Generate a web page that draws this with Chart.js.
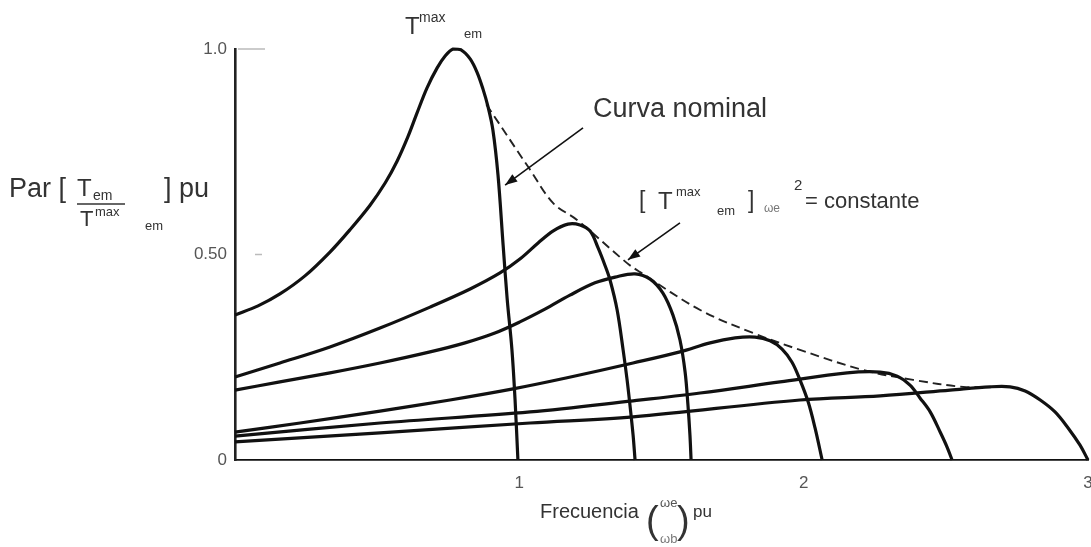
<!DOCTYPE html>
<html>
<head>
<meta charset="utf-8">
<script src="https://cdn.jsdelivr.net/npm/chart.js@4.4.1/dist/chart.umd.min.js"></script>
<style>
  html, body { margin: 0; padding: 0; background: #fff; overflow: hidden; }
  #wrap { position: absolute; left: 0; top: 0; width: 1095px; height: 547px; }
</style>
</head>
<body>
<div id="wrap"><canvas id="chart"></canvas></div>
<script>
// Frecuencia (pu) and par (pu), one pair per curve
const curve1X = [0, 0.081, 0.158, 0.246, 0.334, 0.404, 0.475, 0.528, 0.570, 0.609, 0.640, 0.675, 0.711, 0.739, 0.767, 0.795, 0.827, 0.851, 0.872, 0.890, 0.907, 0.925, 0.943, 0.957, 0.974, 0.985, 0.995];
const curve1Y = [0.353, 0.375, 0.404, 0.448, 0.506, 0.560, 0.620, 0.674, 0.727, 0.788, 0.844, 0.905, 0.954, 0.983, 1.0, 0.998, 0.976, 0.944, 0.903, 0.859, 0.803, 0.693, 0.523, 0.394, 0.268, 0.146, 0];

const curve2X = [0, 0.158, 0.334, 0.510, 0.686, 0.827, 0.932, 1.002, 1.066, 1.118, 1.171, 1.213, 1.249, 1.277, 1.301, 1.319, 1.344, 1.365, 1.379, 1.389, 1.400, 1.407];
const curve2Y = [0.202, 0.236, 0.275, 0.321, 0.372, 0.416, 0.455, 0.489, 0.528, 0.557, 0.574, 0.572, 0.557, 0.516, 0.474, 0.438, 0.365, 0.268, 0.195, 0.134, 0.061, 0];

const curve3X = [0, 0.158, 0.334, 0.510, 0.686, 0.809, 0.914, 1.002, 1.090, 1.178, 1.266, 1.337, 1.407, 1.460, 1.505, 1.540, 1.565, 1.583, 1.593, 1.600, 1.604];
const curve3Y = [0.170, 0.190, 0.212, 0.236, 0.263, 0.285, 0.309, 0.336, 0.367, 0.401, 0.431, 0.445, 0.453, 0.440, 0.406, 0.353, 0.292, 0.214, 0.134, 0.061, 0];

const curve4X = [0, 0.229, 0.510, 0.756, 0.978, 1.168, 1.400, 1.565, 1.671, 1.759, 1.829, 1.882, 1.924, 1.959, 1.987, 2.016, 2.040, 2.065];
const curve4Y = [0.068, 0.090, 0.119, 0.146, 0.173, 0.200, 0.236, 0.263, 0.285, 0.297, 0.299, 0.290, 0.270, 0.238, 0.195, 0.141, 0.078, 0];

const curve5X = [0, 0.510, 1.038, 1.400, 1.636, 1.917, 2.153, 2.269, 2.329, 2.374, 2.409, 2.445, 2.480, 2.504, 2.522];
const curve5Y = [0.058, 0.090, 0.117, 0.144, 0.163, 0.190, 0.212, 0.214, 0.204, 0.182, 0.151, 0.117, 0.068, 0.032, 0];

const curve6X = [0, 0.510, 1.038, 1.400, 1.987, 2.269, 2.515, 2.656, 2.726, 2.779, 2.832, 2.884, 2.930, 2.972, 3.0];
const curve6Y = [0.044, 0.066, 0.090, 0.105, 0.146, 0.156, 0.170, 0.178, 0.178, 0.168, 0.146, 0.117, 0.078, 0.036, 0];

// [T max em] * we^2 = constante (dashed envelope)
const envelopeX = [0.884, 1.038, 1.119, 1.203, 1.379, 1.425, 1.636, 1.822, 1.987, 2.209, 2.385, 2.561, 2.680];
const envelopeY = [0.865, 0.706, 0.625, 0.584, 0.479, 0.457, 0.365, 0.309, 0.268, 0.219, 0.195, 0.178, 0.178];

const xTickValues = [0, 1, 2, 3];
const xTickLabels = ['', '1', '2', '3'];
const yTickValues = [0, 0.5, 1.0];
const yTickLabels = ['0', '0.50', '1.0'];

const FONT = '"Liberation Sans", Arial, sans-serif';

function toPoints(xs, ys) {
  return xs.map((x, i) => ({ x: x, y: ys[i] }));
}

function solidCurve(xs, ys) {
  return {
    data: toPoints(xs, ys),
    borderColor: '#111',
    borderWidth: 3.2,
    pointRadius: 0,
    fill: false,
    tension: 0.35
  };
}

function txt(ctx, s, x, y, size, color) {
  ctx.font = size + 'px ' + FONT;
  ctx.fillStyle = color || '#333';
  ctx.fillText(s, x, y);
}

function arrow(ctx, x1, y1, x2, y2) {
  const a = Math.atan2(y2 - y1, x2 - x1);
  ctx.beginPath();
  ctx.moveTo(x1, y1);
  ctx.lineTo(x2, y2);
  ctx.stroke();
  ctx.beginPath();
  ctx.moveTo(x2, y2);
  ctx.lineTo(x2 - 13 * Math.cos(a - 0.35), y2 - 13 * Math.sin(a - 0.35));
  ctx.lineTo(x2 - 13 * Math.cos(a + 0.35), y2 - 13 * Math.sin(a + 0.35));
  ctx.closePath();
  ctx.fill();
}

// labels, arrows and axis titles of the drawing
const annotations = {
  id: 'annotations',
  afterDraw(chart) {
    const { ctx, chartArea } = chart;
    const sx = chart.scales.x, sy = chart.scales.y;
    const px = v => sx.getPixelForValue(v);
    const py = v => sy.getPixelForValue(v);
    ctx.save();
    ctx.textAlign = 'left';
    ctx.textBaseline = 'alphabetic';

    // faint tick marks inside the axis
    ctx.strokeStyle = '#bbb';
    ctx.lineWidth = 1.5;
    ctx.beginPath();
    ctx.moveTo(chartArea.left + 3, py(1.0));
    ctx.lineTo(chartArea.left + 30, py(1.0));
    ctx.moveTo(chartArea.left + 20, py(0.5));
    ctx.lineTo(chartArea.left + 27, py(0.5));
    ctx.stroke();

    // arrows
    ctx.strokeStyle = '#111';
    ctx.fillStyle = '#111';
    ctx.lineWidth = 1.6;
    arrow(ctx, px(1.224), py(0.808), px(0.950), py(0.669));
    arrow(ctx, px(1.565), py(0.577), px(1.382), py(0.487));

    // T max em on top of the nominal curve
    txt(ctx, 'T', 405, 34, 24);
    txt(ctx, 'max', 419, 22, 14);
    txt(ctx, 'em', 464, 38, 13);

    txt(ctx, 'Curva nominal', 593, 117, 27);

    // [ T max em ] we^2 = constante
    txt(ctx, '[', 639, 208, 23);
    txt(ctx, 'T', 658, 209, 24);
    txt(ctx, 'max', 676, 196, 13);
    txt(ctx, 'em', 717, 215, 13);
    txt(ctx, ']', 748, 208, 23);
    txt(ctx, 'ωe', 764, 212, 12, '#777');
    txt(ctx, '2', 794, 190, 15);
    txt(ctx, '= constante', 805, 208, 22);

    // y axis title
    txt(ctx, 'Par [', 9, 197, 27);
    txt(ctx, 'T', 77, 196, 24);
    txt(ctx, 'em', 93, 200, 14);
    ctx.strokeStyle = '#333';
    ctx.lineWidth = 1.5;
    ctx.beginPath();
    ctx.moveTo(77, 204);
    ctx.lineTo(125, 204);
    ctx.stroke();
    txt(ctx, 'T', 80, 226, 22);
    txt(ctx, 'max', 95, 216, 13);
    txt(ctx, 'em', 145, 230, 13);
    txt(ctx, '] pu', 164, 197, 27);

    // x axis title
    txt(ctx, 'Frecuencia', 540, 518, 20);
    txt(ctx, '(', 646, 533, 38);
    txt(ctx, 'ωe', 660, 507, 13, '#555');
    txt(ctx, 'ωb', 660, 543, 13, '#777');
    txt(ctx, ')', 677, 533, 38);
    txt(ctx, 'pu', 693, 517, 17);

    ctx.restore();
  }
};

const datasets = [
  solidCurve(curve1X, curve1Y),
  solidCurve(curve2X, curve2Y),
  solidCurve(curve3X, curve3Y),
  solidCurve(curve4X, curve4Y),
  solidCurve(curve5X, curve5Y),
  solidCurve(curve6X, curve6Y),
  {
    data: toPoints(envelopeX, envelopeY),
    borderColor: '#222',
    borderWidth: 1.9,
    borderDash: [9, 5],
    pointRadius: 0,
    fill: false,
    tension: 0.35
  }
];

new Chart(document.getElementById('chart').getContext('2d'), {
  type: 'line',
  data: { datasets },
  options: {
    responsive: true,
    maintainAspectRatio: false,
    animation: false,
    clip: false,
    layout: { padding: { top: 49, right: 7, bottom: 0, left: 0 } },
    plugins: {
      legend: { display: false },
      tooltip: { enabled: false }
    },
    scales: {
      x: {
        type: 'linear',
        min: 0,
        max: 3,
        afterBuildTicks: (scale) => { scale.ticks = xTickValues.map(v => ({ value: v })); },
        afterFit: (scale) => { scale.height = 87; scale.paddingLeft = 0; scale.paddingRight = 0; },
        grid: { display: false, drawTicks: false },
        border: { display: true, color: '#111', width: 1.8 },
        ticks: {
          padding: 13,
          color: '#555',
          font: { family: 'Liberation Sans', size: 17 },
          callback: (v) => xTickLabels[xTickValues.indexOf(v)]
        }
      },
      y: {
        type: 'linear',
        min: 0,
        max: 1.0,
        afterBuildTicks: (scale) => { scale.ticks = yTickValues.map(v => ({ value: v })); },
        afterFit: (scale) => { scale.width = 235; scale.paddingTop = 0; scale.paddingBottom = 0; },
        grid: { display: false, drawTicks: false },
        border: { display: true, color: '#222', width: 2.6 },
        ticks: {
          padding: 8,
          color: '#555',
          font: { family: 'Liberation Sans', size: 17 },
          callback: (v) => yTickLabels[yTickValues.indexOf(v)]
        }
      }
    }
  },
  plugins: [annotations]
});
</script>
</body>
</html>
